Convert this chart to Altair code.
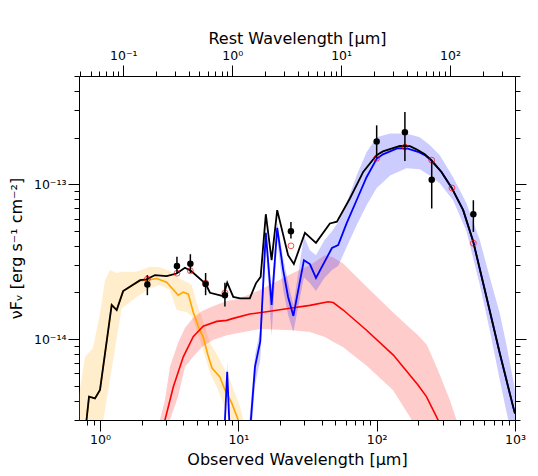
import altair as alt
import pandas as pd

# ---------------- data ----------------
# total model (black)
tot_wl = [0.77, 0.833, 0.92, 1.0, 1.215, 1.32, 1.47, 1.95, 2.17, 2.50, 3.03, 3.58, 4.11, 4.54, 5.80,
          6.24, 7.78, 8.31, 9.19, 10.3, 12.1, 13.4, 14.5, 15.8, 17.4, 19.1, 22.9, 25.2, 30.3, 36.4,
          45.9, 51.6, 64.0, 79.9, 99.8, 111, 147, 174, 194, 223, 249, 294, 349, 422, 498, 622,
          776, 969, 1000]
tot_f = [2.2e-15, 4.25e-15, 4.14e-15, 4.69e-15, 1.66e-14, 1.54e-14, 2.04e-14, 2.40e-14, 2.43e-14,
         2.59e-14, 2.55e-14, 2.65e-14, 2.89e-14, 2.76e-14, 2.27e-14, 1.99e-14, 1.89e-14, 2.31e-14,
         1.87e-14, 1.83e-14, 1.83e-14, 2.29e-14, 2.52e-14, 6.40e-14, 3.23e-14, 6.80e-14, 3.48e-14,
         3.05e-14, 4.85e-14, 4.18e-14, 5.58e-14, 5.73e-14, 8.09e-14, 1.20e-13, 1.54e-13, 1.63e-13,
         1.77e-13, 1.76e-13, 1.68e-13, 1.56e-13, 1.43e-13, 1.20e-13, 9.46e-14, 6.80e-14, 4.29e-14,
         1.87e-14, 8.09e-15, 3.66e-15, 3.3e-15]

# stellar component (orange)
star_wl = [0.77, 0.833, 0.92, 1.0, 1.215, 1.32, 1.47, 1.95, 2.17, 2.57, 3.03, 3.68, 4.0, 4.35, 4.72,
           5.13, 5.57, 6.03, 6.45, 7.36, 8.0, 8.95, 9.98, 10.4]
star_f = [2.2e-15, 4.25e-15, 4.14e-15, 4.69e-15, 1.66e-14, 1.54e-14, 2.04e-14, 2.38e-14, 2.40e-14,
          2.46e-14, 2.33e-14, 1.92e-14, 2.01e-14, 1.95e-14, 1.49e-14, 1.21e-14, 1.03e-14, 7.88e-15,
          6.50e-15, 5.69e-15, 4.69e-15, 3.87e-15, 3.0e-15, 2.67e-15]
star_band_wl = [0.705, 0.779, 0.890, 1.0, 1.087, 1.18, 1.32, 1.435, 1.84, 2.30, 2.71, 3.20, 3.58,
                4.23, 4.60, 5.00, 5.58, 6.24, 6.97, 7.78, 8.70, 10.3, 11.2]
star_band_hi = [4.35e-15, 7.66e-15, 8.75e-15, 1.47e-14, 2.40e-14, 2.79e-14, 2.67e-14, 2.72e-14,
                2.72e-14, 2.93e-14, 2.91e-14, 2.75e-14, 2.51e-14, 2.34e-14, 2.23e-14, 1.71e-14,
                1.29e-14, 9.42e-15, 8.0e-15, 6.60e-15, 5.44e-15, 3.64e-15, 2.67e-15]
star_band_lo = [2.07e-16, 2.79e-16, 4.35e-16, 2.23e-15, 3.48e-15, 5.44e-15, 1.015e-14, 1.58e-14,
                1.87e-14, 2.13e-14, 2.23e-14, 2.07e-14, 1.54e-14, 1.49e-14, 1.41e-14, 1.13e-14,
                8.50e-15, 6.04e-15, 4.90e-15, 3.87e-15, 2.87e-15, 1.92e-15, 1.43e-15]

# AGN / warm component (red)
agn_wl = [2.85, 2.95, 3.39, 4.0, 4.72, 5.57, 6.97, 8.23, 9.19, 12.1, 16.0, 23.6, 32.9, 44.6, 48.5,
          57.3, 84.5, 132, 199, 229, 278, 296]
agn_f = [2.23e-15, 3.0e-15, 4.92e-15, 7.68e-15, 1.035e-14, 1.21e-14, 1.30e-14, 1.32e-14, 1.36e-14,
         1.45e-14, 1.50e-14, 1.58e-14, 1.65e-14, 1.74e-14, 1.72e-14, 1.54e-14, 1.14e-14, 7.88e-15,
         5.05e-15, 4.25e-15, 3.0e-15, 2.23e-15]
agn_band_wl = [2.71, 2.95, 3.2, 3.66, 4.11, 4.70, 5.46, 6.55, 8.27, 9.77, 14.3, 24.8, 32.9, 42.2,
               48.3, 57.0, 85.0, 131, 174, 199, 231, 277, 338, 399]
agn_band_hi = [3.0e-15, 4.04e-15, 6.60e-15, 9.42e-15, 1.18e-14, 1.37e-14, 1.52e-14, 1.63e-14,
               1.76e-14, 1.81e-14, 2.07e-14, 2.67e-14, 3.0e-14, 3.48e-14, 3.38e-14, 3.09e-14,
               2.17e-14, 1.49e-14, 1.18e-14, 1.06e-14, 9.15e-15, 6.31e-15, 4.04e-15, 2.59e-15]
agn_band_lo = [1.66e-15, 1.92e-15, 3.0e-15, 4.23e-15, 6.60e-15, 7.66e-15, 8.88e-15, 9.86e-15,
               1.06e-14, 1.09e-14, 1.16e-14, 1.14e-14, 1.11e-14, 1.03e-14, 9.61e-15, 8.88e-15,
               6.70e-15, 4.69e-15, 3.14e-15, 2.51e-15, 2.07e-15, 1.66e-15, 1.23e-15, 9.15e-16]

# cold dust component (blue)
dust_wl = [7.55, 8.31, 9.05, 11.2, 13.2, 14.4, 15.8, 17.4, 19.1, 21.1, 22.9, 25.0, 29.8, 32.9, 36.4,
           41.9, 47.5, 52.7, 60.6, 71.6, 84.5, 100, 111, 142, 168, 199, 223, 246, 294, 349, 422,
           498, 622, 776, 969, 1000]
dust_f = [1e-15, 6.15e-15, 1e-15, 1e-15, 6.63e-15, 9.61e-15, 4.85e-14, 1.66e-14, 5.23e-14, 2.79e-14,
          1.87e-14, 1.41e-14, 3.23e-14, 3.05e-14, 2.48e-14, 3.14e-14, 3.87e-14, 4.04e-14, 5.58e-14,
          7.88e-14, 1.11e-13, 1.46e-13, 1.56e-13, 1.71e-13, 1.70e-13, 1.62e-13, 1.54e-13, 1.43e-13,
          1.20e-13, 9.46e-14, 6.80e-14, 4.29e-14, 1.87e-14, 8.09e-15, 3.66e-15, 3.3e-15]
dust_band_wl = [7.55, 8.31, 9.05, 11.2, 12.1, 13.2, 14.4, 15.8, 17.4, 19.1, 21.1, 22.9, 25.0, 29.8,
                32.9, 36.4, 41.9, 47.5, 52.7, 60.6, 71.6, 84.5, 99.8, 125, 164, 205, 242, 286, 357,
                446, 557, 657, 776, 868, 1000]
dust_band_hi = [1e-15, 7.11e-15, 1e-15, 1e-15, 3.23e-15, 7.88e-15, 1.14e-14, 5.36e-14, 2.07e-14,
                5.69e-14, 3.33e-14, 2.33e-14, 1.66e-14, 4.62e-14, 3.75e-14, 3.48e-14, 4.35e-14,
                4.97e-14, 5.69e-14, 7.54e-14, 1.14e-13, 1.61e-13, 2.01e-13, 2.13e-13, 2.13e-13,
                2.01e-13, 1.79e-13, 1.54e-13, 1.11e-13, 7.54e-14, 4.35e-14, 2.51e-14, 1.47e-14,
                9.15e-15, 4.69e-15]
dust_band_lo = [1e-15, 5.44e-15, 1e-15, 1e-15, 1.79e-15, 5.05e-15, 7.33e-15, 4.04e-14, 1.045e-14,
                4.35e-14, 2.07e-14, 1.43e-14, 1.11e-14, 2.51e-14, 2.30e-14, 2.04e-14, 2.48e-14,
                2.79e-14, 2.96e-14, 3.92e-14, 5.44e-14, 7.32e-14, 9.42e-14, 1.14e-13, 1.27e-13,
                1.25e-13, 1.14e-13, 1.015e-13, 7.88e-14, 4.97e-14, 2.23e-14, 1.14e-14, 5.44e-15,
                3.38e-15, 1.92e-15]

# observed photometry (black points with error bars)
obs_wl = [2.2, 3.6, 4.5, 5.8, 8.0, 24, 100, 160, 250, 500]
obs_f = [2.25e-14, 2.96e-14, 3.06e-14, 2.27e-14, 1.92e-14, 4.97e-14, 1.89e-13, 2.17e-13, 1.07e-13, 6.40e-14]
obs_lo = [1.92e-14, 2.67e-14, 2.67e-14, 1.92e-14, 1.62e-14, 4.46e-14, 1.48e-13, 1.41e-13, 6.97e-14, 4.92e-14]
obs_hi = [2.59e-14, 3.40e-14, 3.53e-14, 2.67e-14, 2.31e-14, 5.71e-14, 2.40e-13, 2.93e-13, 1.41e-13, 7.88e-14]

# model photometry (red open circles)
mod_wl = [2.2, 3.6, 4.5, 5.8, 8.0, 24, 100, 160, 250, 350, 500]
mod_f = [2.44e-14, 2.66e-14, 2.76e-14, 2.30e-14, 1.99e-14, 4.0e-14, 1.47e-13, 1.74e-13, 1.43e-13, 9.46e-14, 4.16e-14]

# axis ranges / tick labels
obs_domain = [0.705, 1000]
rest_domain = [0.0392, 395]
flux_domain = [3e-15, 5e-13]
obs_labels = {1: "10⁰", 10: "10¹", 100: "10²", 1000: "10³"}
rest_labels = {0.1: "10⁻¹", 1: "10⁰", 10: "10¹", 100: "10²"}
flux_labels = {1e-14: "10⁻¹⁴", 1e-13: "10⁻¹³"}

for a, b in [(tot_wl, tot_f), (star_wl, star_f), (agn_wl, agn_f), (dust_wl, dust_f)]:
    assert len(a) == len(b)
for a, b, c in [(star_band_wl, star_band_hi, star_band_lo), (agn_band_wl, agn_band_hi, agn_band_lo),
                (dust_band_wl, dust_band_hi, dust_band_lo), (obs_wl, obs_lo, obs_hi)]:
    assert len(a) == len(b) == len(c)


def log_ticks(lo, hi):
    out = []
    for e in range(-16, 4):
        for m in range(1, 10):
            v = float(f"{m}e{e}")
            if lo <= v <= hi * 1.0001:
                out.append(v)
    return out


def label_expr(mapping):
    expr = "''"
    for v, s in mapping.items():
        expr = f"abs(datum.value/{v}-1)<1e-6 ? '{s}' : " + expr
    return expr


def major_test(mapping):
    return " || ".join(f"abs(datum.value/{v}-1)<1e-6" for v in mapping)


FONT = "DejaVu Sans"


def make_axis(orient, values, mapping, title, labels=True, title_pad=4, label_pad=3):
    kw = dict(
        orient=orient, values=values, labelExpr=label_expr(mapping), labels=labels,
        tickSize={"condition": {"test": major_test(mapping), "value": 11}, "value": 5},
        tickColor="black", tickWidth=1, domainColor="black", domainWidth=1, grid=False,
        labelFont=FONT, labelFontSize=12.5, labelColor="black", labelPadding=label_pad,
        labelFlush=False, labelOverlap=False, labelBound=False,
        titleFont=FONT, titleFontSize=16, titleFontWeight="normal",
        titleColor="black", titlePadding=title_pad,
    )
    kw["title"] = title if title else ""
    return alt.Axis(**kw)


def xscale():
    return alt.Scale(type="log", domain=obs_domain, nice=False)


def yscale():
    return alt.Scale(type="log", domain=flux_domain, nice=False)


def band(wl, lo, hi, color):
    df = pd.DataFrame({"wl": wl, "lo": lo, "hi": hi})
    return alt.Chart(df).mark_area(color=color, opacity=0.2, clip=True, orient="vertical").encode(
        x=alt.X("wl:Q", scale=xscale(), axis=None),
        y=alt.Y("lo:Q", scale=yscale(), axis=None),
        y2=alt.Y2("hi:Q"),
    )


def line(wl, f, color, width):
    df = pd.DataFrame({"wl": wl, "f": f})
    return alt.Chart(df).mark_line(color=color, strokeWidth=width, clip=True).encode(
        x=alt.X("wl:Q", scale=xscale(), axis=None),
        y=alt.Y("f:Q", scale=yscale(), axis=None),
        order=alt.Order("wl:Q"),
    )


obs_df = pd.DataFrame({"wl": obs_wl, "f": obs_f, "lo": obs_lo, "hi": obs_hi})
mod_df = pd.DataFrame({"wl": mod_wl, "f": mod_f})

# axis-carrying layer (bottom/left), invisible
axes_df = pd.DataFrame({"wl": obs_domain, "f": flux_domain})
axes_layer = alt.Chart(axes_df).mark_point(opacity=0).encode(
    x=alt.X("wl:Q", scale=xscale(),
            axis=make_axis("bottom", log_ticks(*obs_domain), obs_labels, "Observed Wavelength [μm]",
                           title_pad=6, label_pad=2)),
    y=alt.Y("f:Q", scale=yscale(),
            axis=make_axis("left", log_ticks(*flux_domain), flux_labels, "νFᵥ [erg s⁻¹ cm⁻²]",
                           title_pad=9, label_pad=2)),
)

# rest-frame top axis and mirrored right axis
frame_df = pd.DataFrame({"rest": rest_domain, "f": flux_domain})
frame = alt.Chart(frame_df).mark_point(opacity=0).encode(
    x=alt.X("rest:Q", scale=alt.Scale(type="log", domain=rest_domain, nice=False),
            axis=make_axis("top", log_ticks(*rest_domain), rest_labels, "Rest Wavelength [μm]",
                           title_pad=3, label_pad=3)),
    y=alt.Y("f:Q", scale=yscale(),
            axis=make_axis("right", log_ticks(*flux_domain), flux_labels, None, labels=False)),
)

errbars = alt.Chart(obs_df).mark_rule(color="black", strokeWidth=1.5, clip=True).encode(
    x=alt.X("wl:Q", scale=xscale(), axis=None),
    y=alt.Y("lo:Q", scale=yscale(), axis=None),
    y2=alt.Y2("hi:Q"),
)
dots = alt.Chart(obs_df).mark_point(filled=True, color="black", opacity=1, size=42, shape="circle").encode(
    x=alt.X("wl:Q", scale=xscale(), axis=None),
    y=alt.Y("f:Q", scale=yscale(), axis=None),
)
mods = alt.Chart(mod_df).mark_point(filled=False, color="red", size=34, strokeWidth=1, shape="circle").encode(
    x=alt.X("wl:Q", scale=xscale(), axis=None),
    y=alt.Y("f:Q", scale=yscale(), axis=None),
)

chart = alt.layer(
    axes_layer,
    frame,
    band(star_band_wl, star_band_lo, star_band_hi, "orange"),
    band(agn_band_wl, agn_band_lo, agn_band_hi, "red"),
    band(dust_band_wl, dust_band_lo, dust_band_hi, "blue"),
    line(star_wl, star_f, "orange", 1.6),
    line(agn_wl, agn_f, "red", 1.6),
    line(dust_wl, dust_f, "blue", 1.8),
    line(tot_wl, tot_f, "black", 1.8),
    mods,
    errbars,
    dots,
).resolve_scale(x="independent", y="independent").properties(
    width=436, height=344,
    autosize=alt.AutoSizeParams(type="none"),
    padding={"left": 71, "top": 68, "right": 15, "bottom": 48},
).configure_view(stroke=None).configure(background="white")

chart.save("out.html", embed_options={"renderer": "svg", "actions": False})
